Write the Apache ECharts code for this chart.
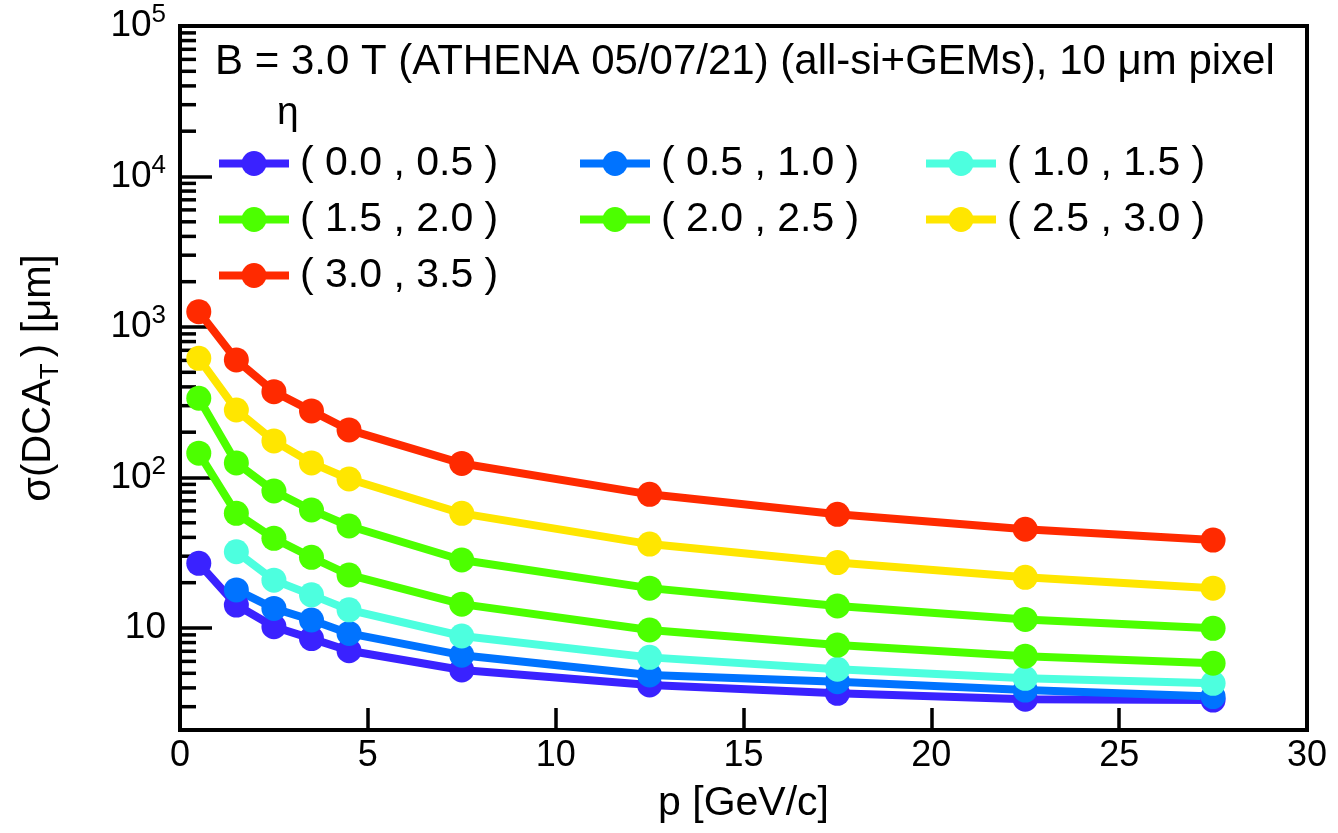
<!DOCTYPE html>
<html>
<head>
<meta charset="utf-8">
<title>σ(DCA_T) vs p</title>
<script src="https://cdn.jsdelivr.net/npm/echarts@6/dist/echarts.min.js"></script>
<style>
  html, body { margin: 0; padding: 0; background: #fff; }
  #chart { width: 1338px; height: 833px; }
</style>
</head>
<body>
<div id="chart"></div>
<script>
// Momentum bin centres [GeV/c]
const momentum = [0.5, 1.5, 2.5, 3.5, 4.5, 7.5, 12.5, 17.5, 22.5, 27.5];

// Transverse DCA resolution [um] per pseudorapidity bin (null = no point)
const eta_00_05 = [26.9, 14.2, 10.2, 8.5, 7.06, 5.26, 4.18, 3.68, 3.36, 3.32];
const eta_05_10 = [null, 17.9, 13.5, 11.3, 9.2, 6.6, 4.87, 4.4, 3.87, 3.5];
const eta_10_15 = [null, 32.1, 20.8, 16.6, 13.2, 8.85, 6.38, 5.32, 4.63, 4.29];
const eta_15_20 = [145, 57.8, 39.4, 29.5, 22.5, 14.4, 9.7, 7.7, 6.5, 5.83];
const eta_20_25 = [336, 125, 81.3, 60.8, 47.6, 28.3, 18.4, 14.0, 11.4, 9.95];
const eta_25_30 = [619, 281, 175, 125, 97.7, 57.8, 36.1, 27.2, 21.7, 18.4];
const eta_30_35 = [1265, 604, 372, 277, 207, 124, 77.3, 56.9, 45.3, 38.4];

const etaLabels = ['( 0.0 , 0.5 )', '( 0.5 , 1.0 )', '( 1.0 , 1.5 )', '( 1.5 , 2.0 )',
                   '( 2.0 , 2.5 )', '( 2.5 , 3.0 )', '( 3.0 , 3.5 )'];
const etaValues = [eta_00_05, eta_05_10, eta_10_15, eta_15_20, eta_20_25, eta_25_30, eta_30_35];
const etaColors = ['#3a22ff', '#0073ff', '#4dffdf', '#4cff00', '#4cff00', '#ffe600', '#ff2a00'];

const titleText = 'B = 3.0 T (ATHENA 05/07/21) (all-si+GEMs), 10 \u03bcm pixel';
const xTicks = [0, 5, 10, 15, 20, 25, 30];

const FONT = '"Liberation Sans", Arial, Helvetica, sans-serif';
const Y_MIN = 2.1, Y_MAX = 1e5;

// minor tick positions on the log axis: 2..9 x 10^d
const minorTicks = [];
for (let d = 0; d <= 4; d++) {
  for (let m = 2; m <= 9; m++) {
    const v = m * Math.pow(10, d);
    if (v > Y_MIN && v < Y_MAX) minorTicks.push([0, v]);
  }
}

const lineSeries = etaLabels.map((name, i) => ({
  name: name,
  type: 'line',
  data: momentum.map((p, k) => [p, etaValues[i][k]]).filter(d => d[1] != null),
  symbol: 'circle',
  symbolSize: 25,
  itemStyle: { color: etaColors[i] },
  lineStyle: { color: etaColors[i], width: 8 },
  emphasis: { disabled: true },
  animation: false,
  z: 3
}));

const minorTickSeries = {
  type: 'custom',
  data: minorTicks,
  silent: true,
  animation: false,
  clip: false,
  z: 1,
  renderItem: function (params, api) {
    const pt = api.coord([0, api.value(1)]);
    return {
      type: 'line',
      shape: { x1: pt[0], y1: pt[1], x2: pt[0] + 16, y2: pt[1] },
      style: { stroke: '#000', lineWidth: 3.5 }
    };
  }
};

function legendColumn(left, names) {
  return {
    orient: 'vertical',
    left: left,
    top: 143,
    padding: 0,
    itemWidth: 70,
    itemHeight: 31,
    itemGap: 15,
    data: names,
    selectedMode: false,
    lineStyle: { width: 8 },
    textStyle: { fontFamily: FONT, fontSize: 41, color: '#000', lineHeight: 31, padding: [0, 0, 0, 6] }
  };
}

const chart = echarts.init(document.getElementById('chart'), null, { renderer: 'canvas' });

chart.setOption({
  backgroundColor: '#fff',
  animation: false,
  grid: {
    left: 180, right: 31, top: 26, bottom: 103,
    show: true, borderColor: '#000', borderWidth: 4, backgroundColor: 'transparent'
  },
  xAxis: {
    type: 'value',
    min: 0, max: 30, interval: 5,
    name: 'p [GeV/c]',
    nameLocation: 'middle',
    nameGap: 53,
    nameTextStyle: { fontFamily: FONT, fontSize: 41, color: '#000' },
    axisLine: { show: true, lineStyle: { color: '#000', width: 4 } },
    axisTick: { show: true, inside: true, length: 22, lineStyle: { color: '#000', width: 3.5 } },
    axisLabel: {
      fontFamily: FONT, fontSize: 36, color: '#000', margin: 8,
      formatter: v => (xTicks.indexOf(v) >= 0 ? String(v) : '')
    },
    splitLine: { show: false }
  },
  yAxis: {
    type: 'log',
    logBase: 10,
    min: Y_MIN, max: Y_MAX,
    name: '\u03c3(DCA{sub|T}) [\u03bcm]',
    nameLocation: 'middle',
    nameRotate: 90,
    nameGap: 116,
    nameTextStyle: {
      fontFamily: FONT, fontSize: 40, color: '#000',
      rich: { sub: { fontFamily: FONT, fontSize: 26, color: '#000', padding: [24, 6, 0, 0] } }
    },
    axisLine: { show: true, lineStyle: { color: '#000', width: 4 } },
    axisTick: { show: true, inside: true, length: 32, lineStyle: { color: '#000', width: 3.5 } },
    axisLabel: {
      fontFamily: FONT, fontSize: 37, color: '#000', margin: 14,
      formatter: function (v) {
        const e = Math.log10(v);
        const r = Math.round(e);
        if (Math.abs(e - r) > 1e-6) return '';
        if (r === 1) return '10';
        return '10{sup|' + r + '}';
      },
      rich: { sup: { fontFamily: FONT, fontSize: 26, color: '#000', padding: [0, 0, 22, 0] } }
    },
    splitLine: { show: false },
    minorTick: { show: false }
  },
  legend: [
    legendColumn(215, [etaLabels[0], etaLabels[3], etaLabels[6]]),
    legendColumn(576, [etaLabels[1], etaLabels[4]]),
    legendColumn(922, [etaLabels[2], etaLabels[5]])
  ],
  graphic: [
    {
      type: 'text', left: 215, top: 41, silent: true,
      style: { text: titleText, fontFamily: FONT, fontSize: 42, fill: '#000' }
    },
    {
      type: 'text', left: 277, top: 94, silent: true,
      style: { text: '\u03b7', fontFamily: FONT, fontSize: 39, fill: '#000' }
    }
  ],
  series: [minorTickSeries].concat(lineSeries)
});
</script>
</body>
</html>
